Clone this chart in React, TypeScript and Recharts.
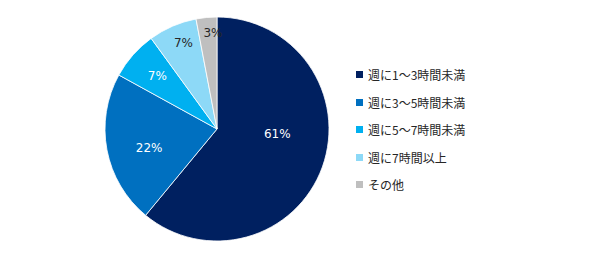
import { PieChart, Pie, Cell } from 'recharts';

// Survey shares (percent)
const categories = ['週に1〜3時間未満', '週に3〜5時間未満', '週に5〜7時間未満', '週に7時間以上', 'その他'];
const shares = [61, 22, 7, 7, 3];

const COLORS = ['#002060', '#0070C0', '#00B0F0', '#8DD9F7', '#BFBFBF'];
const LABEL_COLORS = ['#ffffff', '#ffffff', '#ffffff', '#262626', '#262626'];
// label placement: [radius fraction, angle shift in degrees]
const LABEL_PLACE: [number, number][] = [
  [0.54, 15],
  [0.63, 5],
  [0.71, 0],
  [0.82, -2],
  [0.86, -3],
];

const data = categories.map((name, i) => ({ name, value: shares[i] }));

const RAD = Math.PI / 180;

function renderLabel(props: any) {
  const { cx, cy, midAngle, outerRadius, index, value } = props;
  const [f, shift] = LABEL_PLACE[index];
  const a = (midAngle + shift) * RAD;
  const r = outerRadius * f;
  const x = cx + r * Math.cos(a);
  const y = cy - r * Math.sin(a);
  return (
    <text
      x={x}
      y={y}
      fill={LABEL_COLORS[index]}
      textAnchor="middle"
      dominantBaseline="central"
      fontSize={12}
      fontFamily="'DejaVu Sans', sans-serif"
    >
      {`${value}%`}
    </text>
  );
}

function LegendBox() {
  return (
    <div
      style={{
        position: 'absolute',
        left: 356,
        top: 61,
        fontFamily: "'Noto Sans CJK JP', sans-serif",
        fontSize: 12,
        color: '#262626',
      }}
    >
      {categories.map((c, i) => (
        <div key={c} style={{ display: 'flex', alignItems: 'center', height: 27.5 }}>
          <span style={{ width: 7, height: 7, background: COLORS[i], marginRight: 5, display: 'inline-block' }} />
          <span>{c}</span>
        </div>
      ))}
    </div>
  );
}

export default function App() {
  return (
    <div style={{ margin: -8, width: 603, height: 255, background: '#fff', position: 'relative' }}>
      <PieChart width={603} height={255} margin={{ top: 0, right: 0, bottom: 0, left: 0 }}>
        <Pie
          data={data}
          dataKey="value"
          cx={217}
          cy={129}
          outerRadius={112}
          startAngle={90}
          endAngle={-270}
          stroke="#ffffff"
          strokeWidth={0.8}
          label={renderLabel}
          labelLine={false}
          isAnimationActive={false}
        >
          {data.map((d, i) => (
            <Cell key={d.name} fill={COLORS[i]} />
          ))}
        </Pie>
      </PieChart>
      <LegendBox />
    </div>
  );
}
